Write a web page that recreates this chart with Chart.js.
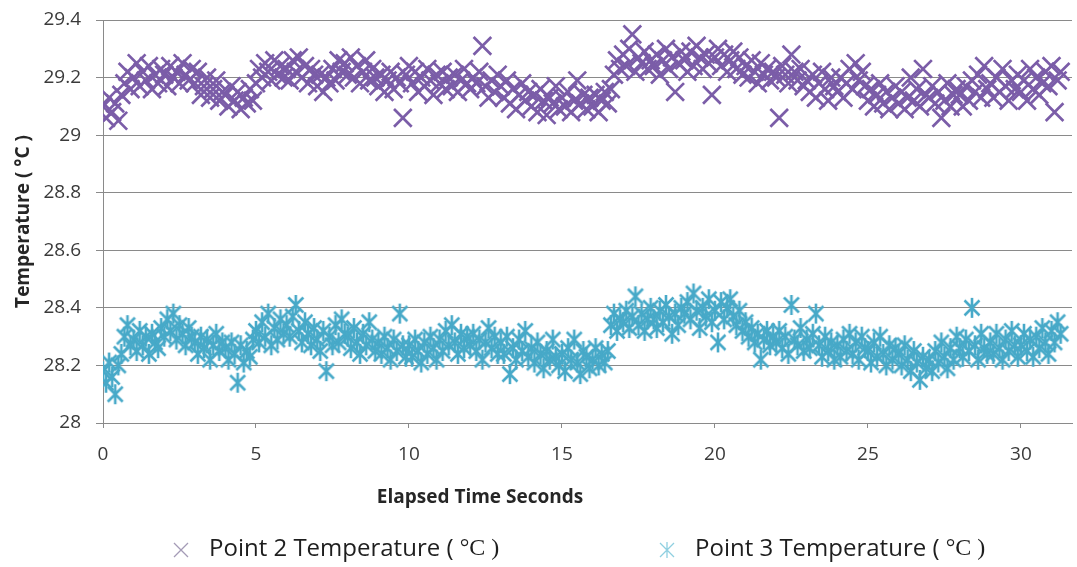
<!DOCTYPE html>
<html><head><meta charset="utf-8">
<script src="https://cdn.jsdelivr.net/npm/chart.js@4.4.1/dist/chart.umd.min.js"></script>
<style>html,body{margin:0;padding:0;background:#fff;overflow:hidden;}canvas{display:block;}</style>
</head><body>
<canvas id="c" width="1077" height="567"></canvas>
<script>
const timeSeconds = [
0,0.1,0.2,0.3,0.4,0.5,0.6,0.7,0.8,0.9,
1,1.1,1.2,1.3,1.4,1.5,1.6,1.7,1.8,1.9,
2,2.1,2.2,2.3,2.4,2.5,2.6,2.7,2.8,2.9,
3,3.1,3.2,3.3,3.4,3.5,3.6,3.7,3.8,3.9,
4,4.1,4.2,4.3,4.4,4.5,4.6,4.7,4.8,4.9,
5,5.1,5.2,5.3,5.4,5.5,5.6,5.7,5.8,5.9,
6,6.1,6.2,6.3,6.4,6.5,6.6,6.7,6.8,6.9,
7,7.1,7.2,7.3,7.4,7.5,7.6,7.7,7.8,7.9,
8,8.1,8.2,8.3,8.4,8.5,8.6,8.7,8.8,8.9,
9,9.1,9.2,9.3,9.4,9.5,9.6,9.7,9.8,9.9,
10,10.1,10.2,10.3,10.4,10.5,10.6,10.7,10.8,10.9,
11,11.1,11.2,11.3,11.4,11.5,11.6,11.7,11.8,11.9,
12,12.1,12.2,12.3,12.4,12.5,12.6,12.7,12.8,12.9,
13,13.1,13.2,13.3,13.4,13.5,13.6,13.7,13.8,13.9,
14,14.1,14.2,14.3,14.4,14.5,14.6,14.7,14.8,14.9,
15,15.1,15.2,15.3,15.4,15.5,15.6,15.7,15.8,15.9,
16,16.1,16.2,16.3,16.4,16.5,16.6,16.7,16.8,16.9,
17,17.1,17.2,17.3,17.4,17.5,17.6,17.7,17.8,17.9,
18,18.1,18.2,18.3,18.4,18.5,18.6,18.7,18.8,18.9,
19,19.1,19.2,19.3,19.4,19.5,19.6,19.7,19.8,19.9,
20,20.1,20.2,20.3,20.4,20.5,20.6,20.7,20.8,20.9,
21,21.1,21.2,21.3,21.4,21.5,21.6,21.7,21.8,21.9,
22,22.1,22.2,22.3,22.4,22.5,22.6,22.7,22.8,22.9,
23,23.1,23.2,23.3,23.4,23.5,23.6,23.7,23.8,23.9,
24,24.1,24.2,24.3,24.4,24.5,24.6,24.7,24.8,24.9,
25,25.1,25.2,25.3,25.4,25.5,25.6,25.7,25.8,25.9,
26,26.1,26.2,26.3,26.4,26.5,26.6,26.7,26.8,26.9,
27,27.1,27.2,27.3,27.4,27.5,27.6,27.7,27.8,27.9,
28,28.1,28.2,28.3,28.4,28.5,28.6,28.7,28.8,28.9,
29,29.1,29.2,29.3,29.4,29.5,29.6,29.7,29.8,29.9,
30,30.1,30.2,30.3,30.4,30.5,30.6,30.7,30.8,30.9,
31,31.1,31.2,31.3
];
const point2Temps = [
29.10,29.06,29.13,29.08,29.11,29.05,29.14,29.18,29.22,29.16,
29.20,29.25,29.17,29.22,29.19,29.24,29.16,29.21,29.18,29.23,
29.21,29.17,29.24,29.20,29.22,29.18,29.25,29.21,29.19,29.23,
29.18,29.22,29.14,29.17,29.20,29.13,29.16,29.19,29.12,29.15,
29.14,29.10,29.17,29.12,29.15,29.09,29.13,29.11,29.16,29.12,
29.18,29.23,29.20,29.25,29.22,29.19,29.26,29.21,29.24,29.20,
29.23,29.19,29.26,29.22,29.27,29.20,29.24,29.18,29.23,29.21,
29.17,29.21,29.15,29.20,29.18,29.23,29.19,29.26,29.22,29.25,
29.21,29.27,29.20,29.24,29.18,29.22,29.26,29.19,29.23,29.20,
29.17,29.21,29.15,29.19,29.22,29.16,29.20,29.18,29.06,29.21,
29.24,29.18,29.22,29.15,29.20,29.17,29.23,29.19,29.14,29.21,
29.18,29.22,29.16,29.20,29.17,29.21,29.15,29.19,29.23,29.18,
29.16,29.20,29.18,29.22,29.31,29.17,29.13,29.19,29.15,29.21,
29.17,29.13,29.19,29.11,29.16,29.09,29.14,29.18,29.12,29.15,
29.10,29.14,29.08,29.16,29.12,29.07,29.13,29.11,29.17,29.09,
29.13,29.10,29.15,29.08,29.12,29.19,29.11,29.14,29.09,29.13,
29.10,29.14,29.08,29.12,29.15,29.11,29.16,29.21,29.26,29.23,
29.28,29.24,29.30,29.35,29.22,29.27,29.25,29.29,29.23,29.26,
29.24,29.28,29.21,29.26,29.30,29.23,29.27,29.15,29.25,29.29,
29.26,29.22,29.29,29.24,29.31,29.27,29.23,29.28,29.25,29.14,
29.27,29.30,29.24,29.28,29.22,29.26,29.29,29.23,29.27,29.21,
29.24,29.20,29.26,29.22,29.18,29.25,29.21,29.23,29.19,29.22,
29.20,29.06,29.24,29.21,29.18,29.28,29.22,29.19,29.23,29.17,
29.19,29.15,29.21,29.13,29.18,29.22,29.16,29.12,29.20,29.17,
29.15,29.20,29.13,29.18,29.23,29.16,29.25,29.19,29.22,29.17,
29.12,29.16,29.10,29.14,29.18,29.11,29.15,29.09,29.13,29.17,
29.11,29.15,29.09,29.13,29.20,29.12,29.16,29.10,29.23,29.14,
29.13,29.17,29.11,29.15,29.06,29.12,29.18,29.10,29.14,29.16,
29.14,29.10,29.17,29.12,29.19,29.15,29.21,29.13,29.24,29.16,
29.18,29.13,29.20,29.15,29.23,29.17,29.12,29.19,29.16,29.21,
29.15,29.19,29.12,29.23,29.16,29.20,29.14,29.18,29.22,29.17,
29.24,29.08,29.19,29.22
];
const point3Temps = [
28.18,28.14,28.21,28.16,28.10,28.20,28.24,28.30,28.34,28.27,
28.29,28.25,28.32,28.27,28.30,28.24,28.31,28.28,28.26,28.33,
28.30,28.36,28.32,28.38,28.29,28.34,28.31,28.27,28.33,28.30,
28.28,28.24,28.30,28.26,28.29,28.22,28.27,28.31,28.25,28.28,
28.26,28.22,28.28,28.24,28.14,28.27,28.21,28.25,28.23,28.29,
28.32,28.28,28.35,28.30,28.38,28.27,28.33,28.29,28.36,28.31,
28.34,28.30,28.37,28.41,28.32,28.28,28.35,28.31,28.27,28.33,
28.29,28.25,28.32,28.18,28.30,28.27,28.34,28.28,28.36,28.31,
28.30,28.26,28.33,28.28,28.24,28.31,28.27,28.35,28.29,28.25,
28.28,28.24,28.30,28.26,28.22,28.29,28.25,28.38,28.27,28.23,
28.27,28.23,28.29,28.25,28.21,28.28,28.24,28.30,28.26,28.22,
28.29,28.25,28.32,28.27,28.34,28.28,28.24,28.31,28.26,28.30,
28.27,28.31,28.25,28.29,28.22,28.28,28.33,28.26,28.30,28.24,
28.28,28.24,28.30,28.17,28.26,28.22,28.29,28.25,28.32,28.23,
28.26,28.21,28.28,28.24,28.19,28.25,28.22,28.29,28.23,28.20,
28.24,28.18,28.26,28.22,28.29,28.21,28.17,28.25,28.23,28.19,
28.22,28.26,28.20,28.24,28.21,28.25,28.34,28.38,28.32,28.36,
28.35,28.39,28.33,28.37,28.44,28.34,28.38,28.32,28.36,28.40,
28.36,28.33,28.39,28.35,28.41,28.37,28.31,28.38,28.34,28.40,
28.38,28.42,28.36,28.45,28.39,28.33,28.40,28.37,28.43,28.35,
28.39,28.28,28.42,28.36,28.40,28.43,28.37,28.34,28.39,28.32,
28.35,28.30,28.33,28.28,28.31,28.22,28.29,28.32,28.27,28.30,
28.28,28.32,28.26,28.30,28.24,28.41,28.29,28.27,28.33,28.25,
28.29,28.26,28.31,28.38,28.27,28.23,28.30,28.25,28.28,28.22,
28.27,28.23,28.29,28.25,28.31,28.24,28.28,28.22,28.30,28.26,
28.25,28.21,28.28,28.23,28.30,28.24,28.20,28.27,28.22,28.26,
28.24,28.20,28.27,28.22,28.18,28.25,28.21,28.15,28.23,28.19,
28.22,28.18,28.25,28.21,28.28,28.23,28.19,28.26,28.22,28.30,
28.26,28.23,28.29,28.25,28.40,28.27,28.22,28.31,28.26,28.24,
28.28,28.24,28.31,28.26,28.22,28.29,28.25,28.32,28.27,28.23,
28.27,28.31,28.25,28.29,28.23,28.30,28.26,28.33,28.28,28.24,
28.32,28.28,28.35,28.31
];
const seriesLabels = ['Point 2 Temperature ( ', 'Point 3 Temperature ( '];
const unitLabel = '°C )';
const xTickLabels = ['0','5','10','15','20','25','30'];
const yTickLabels = ['28','28.2','28.4','28.6','28.8','29','29.2','29.4'];
const xAxisTitle = 'Elapsed Time Seconds';
const yAxisTitle = 'Temperature ( °C )';

const PURPLE = '#7b5da8';
const CYAN = '#47a9c8';
const GRID = '#8a8a8a';
const SANS = '"Open Sans", "Noto Sans", sans-serif';

function makeStar(color, size, lw) {
  const c = document.createElement('canvas');
  c.width = c.height = size;
  const g = c.getContext('2d');
  const m = size / 2, r = size / 2 - 1, d = r * 0.75;
  g.strokeStyle = color; g.lineWidth = lw;
  g.beginPath();
  g.moveTo(m - d, m - d); g.lineTo(m + d, m + d);
  g.moveTo(m + d, m - d); g.lineTo(m - d, m + d);
  g.moveTo(m, m - r); g.lineTo(m, m + r);
  g.stroke();
  return c;
}
const starImg = makeStar(CYAN, 22, 2.6);

const decor = {
  id: 'decor',
  afterDraw(chart) {
    const ctx = chart.ctx;
    ctx.save();
    ctx.fillStyle = '#262626';
    ctx.font = 'bold 19px ' + SANS;
    ctx.textAlign = 'center';
    ctx.textBaseline = 'middle';
    ctx.fillText(xAxisTitle, 480, 498);

    const items = [
      {x: 181, color: '#a49bb6', label: seriesLabels[0], star: false},
      {x: 667, color: '#8fcfe0', label: seriesLabels[1], star: true}
    ];
    const y = 550;
    items.forEach(it => {
      ctx.strokeStyle = it.color;
      ctx.lineWidth = 1.3;
      ctx.beginPath();
      const d = 7;
      ctx.moveTo(it.x - d, y - d); ctx.lineTo(it.x + d, y + d);
      ctx.moveTo(it.x + d, y - d); ctx.lineTo(it.x - d, y + d);
      if (it.star) { ctx.moveTo(it.x, y - 8); ctx.lineTo(it.x, y + 8); }
      ctx.stroke();
      ctx.fillStyle = '#1e1e1e';
      ctx.textAlign = 'left';
      ctx.font = '24px ' + SANS;
      const tx = it.x + 28;
      ctx.fillText(it.label, tx, y - 1);
      const w = ctx.measureText(it.label).width;
      ctx.font = '24px "Liberation Serif", "DejaVu Serif", serif';
      ctx.fillText(unitLabel, tx + w, y - 1);
    });
    ctx.restore();
  }
};

new Chart(document.getElementById('c'), {
  type: 'scatter',
  data: {
    datasets: [
      {
        label: seriesLabels[0] + unitLabel,
        data: timeSeconds.map((t, i) => ({x: t, y: point2Temps[i]})),
        pointStyle: 'crossRot',
        pointRadius: 12.5,
        pointBorderWidth: 2.7,
        borderColor: PURPLE,
        backgroundColor: PURPLE
      },
      {
        label: seriesLabels[1] + unitLabel,
        data: timeSeconds.map((t, i) => ({x: t, y: point3Temps[i]})),
        pointStyle: starImg,
        pointRadius: 11,
        borderColor: CYAN,
        backgroundColor: CYAN
      }
    ]
  },
  options: {
    responsive: false,
    animation: false,
    events: [],
    layout: {autoPadding: false, padding: {top: 20, right: 5, left: 0, bottom: 0}},
    plugins: {legend: {display: false}, tooltip: {enabled: false}},
    scales: {
      x: {
        type: 'linear',
        min: 0,
        max: 31.67,
        bounds: 'data',
        afterFit: s => { s.height = 144; },
        ticks: {
          stepSize: 5,
          includeBounds: false,
          padding: 0,
          color: '#3a3a3a',
          font: {family: SANS, size: 19, lineHeight: 2.85},
          callback: (v, i) => xTickLabels[i]
        },
        grid: {drawOnChartArea: false, tickLength: 5, color: GRID},
        border: {display: true, color: GRID, width: 1}
      },
      y: {
        min: 28,
        max: 29.4,
        afterFit: s => { s.width = 103; },
        ticks: {
          stepSize: 0.2,
          padding: 15,
          color: '#3a3a3a',
          font: {family: SANS, size: 19, lineHeight: 0.4},
          callback: (v, i) => yTickLabels[i]
        },
        grid: {color: GRID, tickLength: 7},
        border: {display: true, color: GRID, width: 1},
        title: {
          display: true,
          text: yAxisTitle,
          color: '#262626',
          font: {family: SANS, size: 19, weight: 'bold'},
          padding: {top: 12, bottom: 0}
        }
      }
    }
  },
  plugins: [decor]
});
</script>
</body></html>
